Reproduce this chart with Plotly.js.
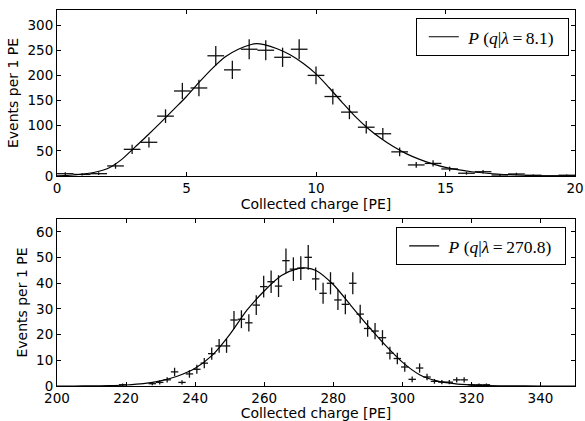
<!DOCTYPE html>
<html>
<head>
<meta charset="utf-8">
<script src="https://cdn.plot.ly/plotly-3.0.1.min.js"></script>
<style>html,body{margin:0;padding:0;background:#fff;}#chart{width:585px;height:421px;}</style>
</head>
<body>
<div id="chart"></div>
<script>
// ---- Top panel data (lambda = 8.1) ----
const topBinWidth = 0.645;
const topX = [0.32, 0.97, 1.61, 2.26, 2.90, 3.55, 4.19, 4.84, 5.48, 6.13, 6.77, 7.42, 8.06, 8.71, 9.35, 10.00, 10.65, 11.29, 11.94, 12.58, 13.23, 13.87, 14.52, 15.16, 15.81, 16.45, 17.10, 17.74, 18.39, 19.03, 19.68];
const topY = [4.6, 3.1, 4.6, 20, 53, 67, 119, 169, 175, 239, 211, 252, 250, 236, 252, 200, 158, 127, 97, 84, 48, 22, 25, 14, 5.5, 8.5, 2, 4, 1.5, 0, 1.5];
const topCurveX = [0, 0.5, 1, 1.5, 2, 2.5, 3, 3.5, 4, 4.5, 5, 5.5, 6, 6.5, 7, 7.5, 7.7, 8, 8.5, 9, 9.5, 10, 10.5, 11, 11.5, 12, 12.5, 13, 13.5, 14, 14.5, 15, 16, 17, 18, 19, 20];
const topCurveY = [0.5, 1.5, 4, 8, 16, 33, 57, 81, 106, 132, 158, 187, 214, 237, 252, 261.5, 263, 261, 253, 241, 224, 203, 176, 147, 119, 95, 75, 58, 44, 33, 24, 17, 8.5, 4, 1.5, 0.5, 0.2];
const topLabel = '\u00A0<i>P</i> (<i>q</i>|<i>λ</i>\u2009=\u20098.1)\u00A0\u00A0';

// ---- Bottom panel data (lambda = 270.8) ----
const botBinWidth = 2.15;
const botX = [219.0, 227.6, 229.75, 231.9, 234.05, 236.2, 238.35, 240.5, 242.65, 244.8, 246.95, 249.1, 251.25, 253.4, 255.55, 257.7, 259.85, 262.0, 264.15, 266.3, 268.45, 270.6, 272.75, 274.9, 277.05, 279.2, 281.35, 283.5, 285.65, 287.8, 289.95, 292.1, 294.25, 296.4, 298.55, 300.7, 302.85, 305.0, 307.15, 309.3, 311.45, 313.6, 315.75, 317.9, 320.05, 322.2, 324.35];
const botY = [0.5, 0.9, 1.4, 2.4, 5.5, 1.4, 4.7, 6.5, 8.9, 12.6, 15.6, 15.6, 25.7, 26, 24.6, 31.5, 38.7, 40.6, 38.9, 48.8, 45.5, 45.9, 50.1, 41.7, 36.1, 40, 33.5, 31.8, 40, 28, 22.4, 21.4, 18.8, 12.8, 10.7, 7.4, 2.6, 7, 3.5, 1.8, 1.5, 1.5, 2.4, 2.4, 0.5, 0.5, 0.5];
const botCurveX = [200, 205, 210, 215, 220, 225, 230, 235, 240, 245, 250, 255, 260, 265, 270, 272, 275, 280, 285, 290, 295, 300, 305, 310, 315, 320, 325, 330, 340, 350];
const botCurveY = [0, 0, 0.05, 0.15, 0.4, 0.9, 2.0, 3.9, 6.9, 12, 20, 29.5, 37, 43, 45.8, 46, 45, 39.5, 31.5, 23.5, 16, 9.3, 4.4, 2.0, 0.9, 0.35, 0.12, 0.04, 0, 0];
const botLabel = '\u00A0<i>P</i> (<i>q</i>|<i>λ</i>\u2009=\u2009270.8)\u00A0\u00A0';

const xLabel = 'Collected charge [PE]';
const yLabel = 'Events per 1 PE';

function errTrace(xs, ys, w, xa, ya) {
  return {
    type: 'scatter', mode: 'markers', x: xs, y: ys, xaxis: xa, yaxis: ya,
    marker: {size: 1, opacity: 0, color: '#000'},
    error_x: {type: 'constant', value: w / 2, width: 0, thickness: 1.3, color: '#111'},
    error_y: {type: 'data', array: ys.map(v => Math.sqrt(v / w)), width: 0, thickness: 1.3, color: '#111'},
    showlegend: false, hoverinfo: 'skip', cliponaxis: true
  };
}

const traces = [
  errTrace(topX, topY, topBinWidth, 'x', 'y'),
  {type: 'scatter', mode: 'lines', x: topCurveX, y: topCurveY, xaxis: 'x', yaxis: 'y',
   line: {color: '#000', width: 1.2, shape: 'spline', smoothing: 0.8}, name: topLabel, legend: 'legend'},
  errTrace(botX, botY, botBinWidth, 'x2', 'y2'),
  {type: 'scatter', mode: 'lines', x: botCurveX, y: botCurveY, xaxis: 'x2', yaxis: 'y2',
   line: {color: '#000', width: 1.2, shape: 'spline', smoothing: 0.8}, name: botLabel, legend: 'legend2'}
];

const tickFont = {family: 'DejaVu Sans', size: 13.5, color: '#000'};
const titleFont = {family: 'DejaVu Sans', size: 14, color: '#000'};
function axis(extra) {
  return Object.assign({
    showline: true, linecolor: '#000', linewidth: 1, mirror: 'allticks',
    ticks: 'inside', ticklen: 4, tickwidth: 1, tickcolor: '#000',
    showgrid: false, zeroline: false, tickfont: tickFont, automargin: false
  }, extra);
}
const legendCommon = {
  bordercolor: '#000', borderwidth: 1, bgcolor: '#fff',
  font: {family: 'Liberation Serif', size: 17.5, color: '#000'},
  xanchor: 'right', yanchor: 'top', itemwidth: 30, tracegroupgap: 0, indentation: 7
};

const layout = {
  width: 585, height: 421,
  margin: {l: 57, r: 10, t: 10, b: 35},
  paper_bgcolor: '#fff', plot_bgcolor: '#fff',
  showlegend: true,
  xaxis: axis({domain: [0, 1], range: [0, 20], dtick: 5, tick0: 0, anchor: 'y',
    title: {text: xLabel, font: titleFont, standoff: 3}}),
  yaxis: axis({domain: [0.5585, 1], range: [0, 330], dtick: 50, tick0: 0, anchor: 'x',
    title: {text: yLabel, font: titleFont, standoff: 5}}),
  xaxis2: axis({domain: [0, 1], range: [200, 350], dtick: 20, tick0: 200, anchor: 'y2',
    title: {text: xLabel, font: titleFont, standoff: 3}}),
  yaxis2: axis({domain: [0, 0.444], range: [0, 65], dtick: 10, tick0: 0, anchor: 'x2',
    title: {text: yLabel, font: titleFont, standoff: 5}}),
  legend: Object.assign({x: 0.988, y: 0.979}, legendCommon),
  legend2: Object.assign({x: 0.983, y: 0.423}, legendCommon)
};

Plotly.newPlot('chart', traces, layout, {displayModeBar: false, staticPlot: true});
</script>
</body>
</html>
